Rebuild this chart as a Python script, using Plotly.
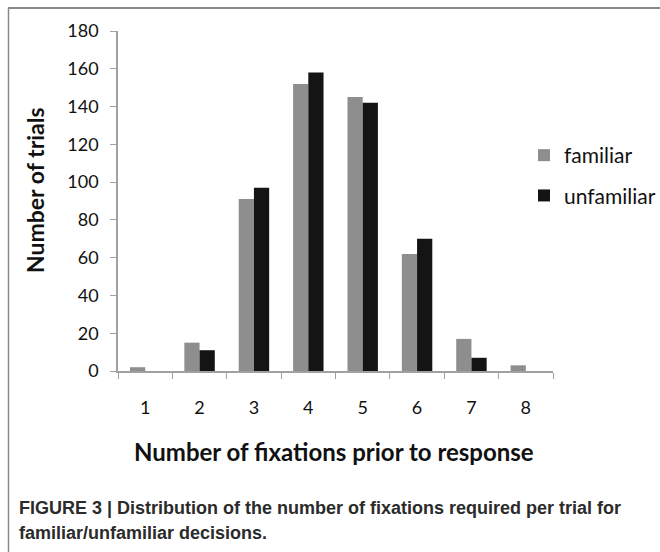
import plotly.graph_objects as go

categories = ["1", "2", "3", "4", "5", "6", "7", "8"]
familiar = [2, 15, 91, 152, 145, 62, 17, 3]
unfamiliar = [0, 11, 97, 158, 142, 70, 7, 0]
y_ticks = [0, 20, 40, 60, 80, 100, 120, 140, 160, 180]

W, H = 660, 552
L, R, T, B = 118, 107, 31, 181
pw = W - L - R
ph = H - T - B

def px(x):
    return (x - L) / pw

def py(y):
    return (H - B - y) / ph

fig = go.Figure()
fig.add_trace(go.Bar(x=categories, y=familiar, name="familiar",
                     marker=dict(color="#8e8e8e", line=dict(width=0)),
                     legendgroup="a"))
fig.add_trace(go.Bar(x=categories, y=unfamiliar, name="unfamiliar",
                     marker=dict(color="#141414", line=dict(width=0)),
                     legendgroup="b"))

font_main = "Lato, 'Open Sans', sans-serif"
fig.update_layout(
    width=W, height=H,
    margin=dict(l=L, r=R, t=T, b=B, autoexpand=False),
    paper_bgcolor="white", plot_bgcolor="white",
    barmode="group", bargap=0.44, bargroupgap=0,
    font=dict(family=font_main, color="#111111"),
    showlegend=True,
    legend=dict(x=px(524), y=py(135), xanchor="left", yanchor="top",
                font=dict(size=21, family=font_main, color="#111111"),
                traceorder="grouped", tracegroupgap=10,
                itemwidth=30, bgcolor="rgba(0,0,0,0)"),
    xaxis=dict(type="category", tickson="boundaries", ticks="outside",
               ticklen=6, tickcolor="#a0a0a0", showline=True,
               linecolor="#a0a0a0", linewidth=1.5, showgrid=False,
               tickfont=dict(size=18, family=font_main, color="#111111"),
               ticklabelstandoff=20),
    yaxis=dict(range=[0, 180], tickvals=y_ticks, ticks="outside",
               ticklen=6, tickcolor="#a0a0a0", showline=True,
               linecolor="#a0a0a0", linewidth=1.5, showgrid=False,
               zeroline=False,
               tickfont=dict(size=18, family=font_main, color="#111111"),
               ticklabelstandoff=8),
)

fig.add_annotation(text="<b>Number of trials</b>", xref="paper", yref="paper",
                   x=px(35), y=py(190), textangle=-90, showarrow=False,
                   font=dict(size=23, family=font_main, color="#111111"),
                   xanchor="center", yanchor="middle")
fig.add_annotation(text="<b>Number of fixations prior to response</b>",
                   xref="paper", yref="paper", x=px(334), y=py(451),
                   showarrow=False,
                   font=dict(size=24, family=font_main, color="#111111"),
                   xanchor="center", yanchor="middle")

cap_font = "'Liberation Sans', Arial, sans-serif"
fig.add_annotation(text="<b>FIGURE 3 | Distribution of the number of fixations required per trial for</b>",
                   xref="paper", yref="paper", x=px(17), y=py(508),
                   showarrow=False, xanchor="left", yanchor="middle",
                   font=dict(size=18, family=cap_font, color="#2b2b2b"))
fig.add_annotation(text="<b>familiar/unfamiliar decisions.</b>",
                   xref="paper", yref="paper", x=px(17), y=py(533),
                   showarrow=False, xanchor="left", yanchor="middle",
                   font=dict(size=18, family=cap_font, color="#2b2b2b"))

# frame
fig.add_shape(type="line", xref="paper", yref="paper",
              x0=px(8), x1=px(662), y0=py(8), y1=py(8),
              line=dict(color="#8a8a8a", width=2))
fig.add_shape(type="line", xref="paper", yref="paper",
              x0=px(8.5), x1=px(8.5), y0=py(8), y1=py(560),
              line=dict(color="#8a8a8a", width=1.5))

fig.write_html("out.html", config={"displayModeBar": False},
               post_script="document.body.style.margin='0';document.body.style.overflow='hidden';")
